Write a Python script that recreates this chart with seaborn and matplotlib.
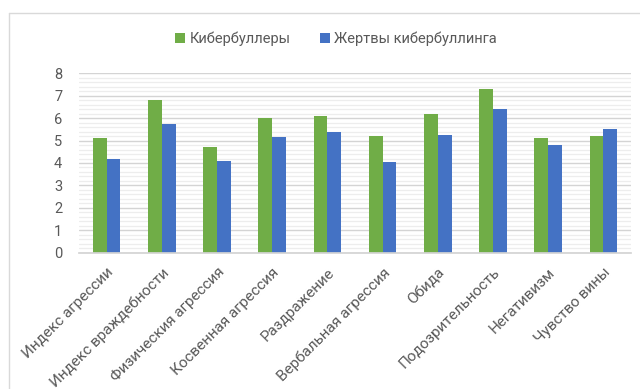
import matplotlib
matplotlib.use("Agg")
import matplotlib.pyplot as plt
from matplotlib.lines import Line2D
from matplotlib.ticker import MultipleLocator
import seaborn as sns
import pandas as pd

categories = ["Индекс агрессии", "Индекс враждебности", "Физическия агрессия",
              "Косвенная агрессия", "Раздражение", "Вербальная агрессия",
              "Обида", "Подозрительность", "Негативизм", "Чувство вины"]
bullies = [5.1, 6.8, 4.7, 6.0, 6.1, 5.2, 6.2, 7.3, 5.1, 5.2]
victims = [4.2, 5.75, 4.1, 5.15, 5.4, 4.05, 5.25, 6.4, 4.8, 5.5]
series_names = ["Кибербуллеры", "Жертвы кибербуллинга"]
colors = ["#70AD47", "#4472C4"]

df = pd.DataFrame({
    "cat": categories * 2,
    "value": bullies + victims,
    "series": [series_names[0]] * len(categories) + [series_names[1]] * len(categories),
})

sns.set_theme(style="white")
plt.rcParams["font.family"] = ["Roboto", "DejaVu Sans"]
text_color = "#595959"

fig = plt.figure(figsize=(6.4, 3.89), dpi=100)
ax = fig.add_axes([79 / 640, 1 - 252.7 / 389, (631 - 79) / 640, (252.7 - 73.3) / 389])

sns.barplot(data=df, x="cat", y="value", hue="series", palette=colors,
            width=0.5, saturation=1, ax=ax, legend=True, linewidth=0)

ax.set_ylim(0, 8)
ax.set_xlim(-0.5, len(categories) - 0.5)
ax.yaxis.set_major_locator(MultipleLocator(1))
ax.yaxis.set_minor_locator(MultipleLocator(0.2))
ax.grid(axis="y", which="minor", color="#EDEDED", linewidth=0.9)
ax.grid(axis="y", which="major", color="#D4D4D4", linewidth=1.0)
ax.set_axisbelow(True)
for s in ["top", "right", "left"]:
    ax.spines[s].set_visible(False)
ax.spines["bottom"].set_color("#D4D4D4")
ax.set_xlabel("")
ax.set_ylabel("")
ax.tick_params(axis="both", which="both", length=0, colors=text_color, labelsize=10.5)
ax.tick_params(axis="y", pad=12)
ax.tick_params(axis="x", pad=9)
ax.set_xticks(range(len(categories)))
ax.set_xticklabels(categories, rotation=45, ha="right", rotation_mode="anchor",
                   color=text_color, fontsize=11)

handles, labels = ax.get_legend_handles_labels()
ax.get_legend().remove()
leg = fig.legend(handles, labels, loc="center", bbox_to_anchor=(336 / 640, 1 - 39 / 389),
                 ncol=2, frameon=False, fontsize=10.5, handlelength=0.7, handleheight=0.7,
                 handletextpad=0.3, columnspacing=2.0)
for t in leg.get_texts():
    t.set_color(text_color)

# chart area border
fig.add_artist(Line2D([9 / 640, 9 / 640], [0, 1 - 13 / 389], color="#D9D9D9", linewidth=1,
                      transform=fig.transFigure))
fig.add_artist(Line2D([9 / 640, 1], [1 - 13 / 389, 1 - 13 / 389], color="#D9D9D9", linewidth=1,
                      transform=fig.transFigure))

fig.savefig("out.png", dpi=100, facecolor="white")
